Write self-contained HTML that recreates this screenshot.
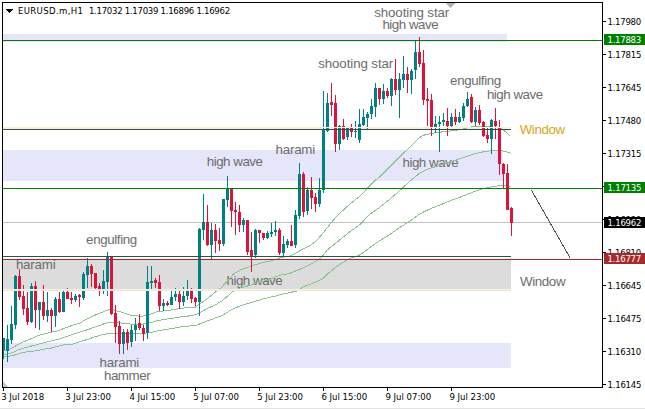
<!DOCTYPE html>
<html><head><meta charset="utf-8"><title>EURUSD.m,H1</title>
<style>
html,body{margin:0;padding:0;background:#fff;width:645px;height:409px;overflow:hidden}
svg{display:block}
.lb{font-family:"Liberation Sans",Arial,sans-serif;font-size:13.333px}
.ax{font-family:"DejaVu Sans Condensed","DejaVu Sans",sans-serif;font-stretch:condensed;font-size:9.5px}
.tt{font-family:"Liberation Sans",Arial,sans-serif;font-size:9.3px}
</style></head>
<body>
<svg width="645" height="409" viewBox="0 0 645 409">
<rect x="0" y="0" width="645" height="409" fill="#fff"/>
<g shape-rendering="crispEdges">
<rect x="3" y="34" width="504" height="8" fill="#e6e6fa"/>
<rect x="3" y="150" width="500" height="31" fill="#e6e6fa"/>
<rect x="3" y="343" width="508" height="25" fill="#e6e6fa"/>
<rect x="3" y="260" width="508" height="29" fill="#dcdcdc"/>
<rect x="3" y="222" width="599" height="1" fill="#c0c0c0"/>
<rect x="3" y="128" width="508" height="1" fill="#ffefd5"/>
</g>
<text x="374.19" y="17.30" textLength="75.06" lengthAdjust="spacing" fill="#6c6c6c" class="lb">shooting star</text>
<text x="382.41" y="28.80" textLength="56.18" lengthAdjust="spacing" fill="#6c6c6c" class="lb">high wave</text>
<text x="318.19" y="67.70" textLength="75.06" lengthAdjust="spacing" fill="#6c6c6c" class="lb">shooting star</text>
<text x="450.10" y="84.60" textLength="51.11" lengthAdjust="spacing" fill="#6c6c6c" class="lb">engulfing</text>
<text x="486.91" y="98.90" textLength="56.18" lengthAdjust="spacing" fill="#6c6c6c" class="lb">high wave</text>
<text x="275.51" y="153.60" textLength="39.7" lengthAdjust="spacing" fill="#6c6c6c" class="lb">harami</text>
<text x="206.76" y="165.65" textLength="56.18" lengthAdjust="spacing" fill="#6c6c6c" class="lb">high wave</text>
<text x="402.51" y="166.60" textLength="56.18" lengthAdjust="spacing" fill="#6c6c6c" class="lb">high wave</text>
<text x="86.10" y="243.50" textLength="51.11" lengthAdjust="spacing" fill="#6c6c6c" class="lb">engulfing</text>
<text x="15.91" y="268.60" textLength="39.7" lengthAdjust="spacing" fill="#6c6c6c" class="lb">harami</text>
<text x="226.51" y="284.60" textLength="56.18" lengthAdjust="spacing" fill="#6c6c6c" class="lb">high wave</text>
<text x="99.61" y="366.90" textLength="39.7" lengthAdjust="spacing" fill="#6c6c6c" class="lb">harami</text>
<text x="103.91" y="380.40" textLength="46.74" lengthAdjust="spacing" fill="#6c6c6c" class="lb">hammer</text>
<text x="519.65" y="133.90" textLength="45.61" lengthAdjust="spacing" fill="#daa520" class="lb">Window</text>
<text x="519.95" y="285.90" textLength="45.61" lengthAdjust="spacing" fill="#6c6c6c" class="lb">Window</text>
<g shape-rendering="crispEdges">
<polyline points="2.5,351.2 3.6,350.8 9.0,349.4 13.6,347.2 18.1,344.4 22.6,342.2 27.1,340.4 31.6,338.6 36.2,336.3 40.7,334.9 45.2,333.6 50.0,332.4 57.8,330.9 65.5,327.8 73.3,325.0 81.0,322.7 84.0,320.5 88.9,318.1 93.8,315.7 98.7,313.7 103.6,311.7 109.4,309.5 113.4,309.8 118.2,311.3 123.1,312.5 128.0,314.5 132.0,315.5 135.5,315.7 141.0,316.5 146.5,315.4 152.0,313.7 157.5,311.5 163.0,311.0 168.5,310.4 174.0,309.5 178.0,308.9 185.3,307.8 195.6,307.0 200.0,303.7 207.3,298.6 214.7,292.7 220.5,288.3 227.0,281.6 233.3,274.2 240.7,269.8 248.0,267.3 255.3,264.7 262.7,262.5 270.0,261.0 276.0,259.4 281.3,257.3 288.7,256.4 293.1,254.7 303.3,248.8 310.7,245.1 316.0,241.3 322.6,233.5 331.4,222.5 338.0,214.8 349.0,204.9 360.0,196.0 367.8,187.8 375.7,180.0 379.8,176.8 389.6,167.0 395.0,161.7 399.9,156.8 404.8,151.9 409.7,147.5 414.6,142.6 419.5,137.7 423.4,135.3 427.3,134.3 432.2,133.3 435.0,132.8 444.9,131.6 460.0,129.8 473.0,126.5 484.0,126.5 495.0,127.1 501.5,128.7 506.0,132.0 510.5,136.3" fill="none" stroke="#8cc28e" stroke-width="1"/>
<polyline points="2.5,355.0 3.6,354.8 9.0,353.9 13.6,352.1 18.1,349.9 22.6,348.3 27.1,347.2 31.6,346.0 36.2,344.9 40.7,343.5 45.2,342.6 50.0,341.3 57.8,339.4 65.5,336.7 73.3,334.3 81.0,331.6 84.0,330.8 88.9,329.2 93.8,327.4 98.7,325.9 103.6,324.0 109.4,322.5 113.4,322.5 118.2,322.7 123.1,323.3 128.0,323.7 132.0,324.2 135.5,324.5 141.0,324.5 146.5,323.4 152.0,322.3 157.5,320.5 163.0,319.8 168.5,318.7 174.0,318.1 178.0,317.2 185.3,316.6 195.6,314.7 200.0,312.5 207.3,308.4 214.7,305.2 222.0,300.8 227.0,296.7 233.3,291.1 240.7,287.8 248.0,285.9 255.3,283.4 262.7,281.5 270.0,279.3 275.0,276.9 281.3,274.9 288.7,273.7 296.0,270.8 303.3,267.9 310.7,264.2 318.0,259.8 321.0,258.0 327.0,250.1 338.0,241.3 349.0,232.4 360.0,224.5 369.8,214.2 379.6,207.4 389.4,199.5 399.2,191.0 409.1,181.9 419.5,173.3 428.6,168.8 437.9,166.0 447.0,162.5 454.7,160.6 462.0,157.9 469.4,155.4 476.7,153.2 484.0,151.7 491.4,150.6 498.7,150.3 506.1,151.5 511.0,153.5" fill="none" stroke="#8cc28e" stroke-width="1"/>
<polyline points="2.5,356.8 3.6,356.6 9.0,356.2 13.6,355.3 18.1,353.9 22.6,352.6 27.1,351.7 31.6,351.2 36.2,350.8 40.7,349.9 45.2,349.0 50.0,348.4 57.8,346.4 65.5,344.4 73.3,344.0 81.0,341.3 86.9,339.6 93.8,337.2 98.7,335.7 103.6,334.4 109.4,333.3 113.4,333.5 123.1,333.8 134.0,333.5 141.0,333.3 146.5,333.0 152.0,332.4 157.5,330.8 163.0,330.0 168.5,329.1 174.0,328.2 178.0,327.2 185.3,326.5 197.1,325.0 204.4,322.1 213.2,318.8 222.0,315.5 228.0,311.8 231.9,309.4 240.7,305.7 248.0,303.5 255.3,301.3 262.7,299.1 270.0,297.2 274.0,296.5 281.3,294.3 288.7,292.8 296.0,291.3 303.3,286.9 310.7,284.0 318.0,281.1 324.0,277.8 327.0,274.3 338.0,265.5 349.0,258.9 360.0,254.8 369.8,247.5 379.6,240.7 389.4,234.8 399.1,227.9 410.0,221.1 419.3,214.2 428.6,209.5 440.2,204.9 451.9,200.2 462.0,196.5 469.4,193.6 476.7,190.7 484.0,188.5 491.4,187.0 498.7,185.8 504.6,185.2 511.0,186.7" fill="none" stroke="#8cc28e" stroke-width="1"/>
</g>
<g shape-rendering="crispEdges">
<rect x="3" y="338" width="1" height="21" fill="#008080"/>
<rect x="2" y="338" width="3" height="12" fill="#008080"/>
<rect x="7" y="325" width="1" height="37" fill="#008080"/>
<rect x="6" y="339" width="3" height="12" fill="#008080"/>
<rect x="11" y="306" width="1" height="38" fill="#008080"/>
<rect x="10" y="324" width="3" height="16" fill="#008080"/>
<rect x="15" y="275" width="1" height="54" fill="#008080"/>
<rect x="14" y="276" width="3" height="49" fill="#008080"/>
<rect x="19" y="269" width="1" height="31" fill="#dc143c"/>
<rect x="18" y="276" width="3" height="21" fill="#dc143c"/>
<rect x="23" y="285" width="1" height="30" fill="#dc143c"/>
<rect x="22" y="296" width="3" height="13" fill="#dc143c"/>
<rect x="27" y="292" width="1" height="33" fill="#dc143c"/>
<rect x="26" y="308" width="3" height="14" fill="#dc143c"/>
<rect x="31" y="283" width="1" height="40" fill="#008080"/>
<rect x="30" y="286" width="3" height="36" fill="#008080"/>
<rect x="35" y="281" width="1" height="47" fill="#dc143c"/>
<rect x="34" y="286" width="3" height="24" fill="#dc143c"/>
<rect x="39" y="302" width="1" height="28" fill="#008080"/>
<rect x="38" y="302" width="3" height="8" fill="#008080"/>
<rect x="43" y="285" width="1" height="35" fill="#dc143c"/>
<rect x="42" y="302" width="3" height="14" fill="#dc143c"/>
<rect x="47" y="292" width="1" height="30" fill="#008080"/>
<rect x="46" y="310" width="3" height="6" fill="#008080"/>
<rect x="51" y="308" width="1" height="24" fill="#dc143c"/>
<rect x="50" y="310" width="3" height="6" fill="#dc143c"/>
<rect x="55" y="297" width="1" height="30" fill="#008080"/>
<rect x="54" y="299" width="3" height="17" fill="#008080"/>
<rect x="59" y="292" width="1" height="21" fill="#dc143c"/>
<rect x="58" y="299" width="3" height="13" fill="#dc143c"/>
<rect x="63" y="291" width="1" height="21" fill="#008080"/>
<rect x="62" y="292" width="3" height="20" fill="#008080"/>
<rect x="67" y="288" width="1" height="11" fill="#dc143c"/>
<rect x="66" y="292" width="3" height="7" fill="#dc143c"/>
<rect x="71" y="292" width="1" height="12" fill="#dc143c"/>
<rect x="70" y="298" width="3" height="2" fill="#dc143c"/>
<rect x="75" y="294" width="1" height="8" fill="#008080"/>
<rect x="74" y="296" width="3" height="4" fill="#008080"/>
<rect x="79" y="294" width="1" height="13" fill="#dc143c"/>
<rect x="78" y="295" width="3" height="2" fill="#dc143c"/>
<rect x="83" y="272" width="1" height="28" fill="#008080"/>
<rect x="82" y="274" width="3" height="24" fill="#008080"/>
<rect x="87" y="258" width="1" height="30" fill="#008080"/>
<rect x="86" y="266" width="3" height="9" fill="#008080"/>
<rect x="91" y="264" width="1" height="23" fill="#dc143c"/>
<rect x="90" y="266" width="3" height="8" fill="#dc143c"/>
<rect x="95" y="273" width="1" height="16" fill="#dc143c"/>
<rect x="94" y="273" width="3" height="15" fill="#dc143c"/>
<rect x="99" y="283" width="1" height="13" fill="#dc143c"/>
<rect x="98" y="286" width="3" height="3" fill="#dc143c"/>
<rect x="103" y="270" width="1" height="24" fill="#008080"/>
<rect x="102" y="281" width="3" height="8" fill="#008080"/>
<rect x="107" y="252" width="1" height="44" fill="#008080"/>
<rect x="106" y="256" width="3" height="26" fill="#008080"/>
<rect x="111" y="257" width="1" height="58" fill="#dc143c"/>
<rect x="110" y="257" width="3" height="57" fill="#dc143c"/>
<rect x="115" y="305" width="1" height="38" fill="#dc143c"/>
<rect x="114" y="313" width="3" height="14" fill="#dc143c"/>
<rect x="119" y="321" width="1" height="33" fill="#dc143c"/>
<rect x="118" y="326" width="3" height="18" fill="#dc143c"/>
<rect x="123" y="329" width="1" height="25" fill="#008080"/>
<rect x="122" y="332" width="3" height="12" fill="#008080"/>
<rect x="127" y="329" width="1" height="21" fill="#dc143c"/>
<rect x="126" y="332" width="3" height="11" fill="#dc143c"/>
<rect x="131" y="325" width="1" height="22" fill="#008080"/>
<rect x="130" y="330" width="3" height="12" fill="#008080"/>
<rect x="135" y="318" width="1" height="23" fill="#008080"/>
<rect x="134" y="325" width="3" height="5" fill="#008080"/>
<rect x="139" y="314" width="1" height="16" fill="#dc143c"/>
<rect x="138" y="323" width="3" height="5" fill="#dc143c"/>
<rect x="143" y="325" width="1" height="16" fill="#dc143c"/>
<rect x="142" y="328" width="3" height="6" fill="#dc143c"/>
<rect x="147" y="266" width="1" height="73" fill="#008080"/>
<rect x="146" y="282" width="3" height="51" fill="#008080"/>
<rect x="151" y="266" width="1" height="23" fill="#008080"/>
<rect x="150" y="281" width="3" height="2" fill="#008080"/>
<rect x="155" y="278" width="1" height="10" fill="#dc143c"/>
<rect x="154" y="280" width="3" height="3" fill="#dc143c"/>
<rect x="159" y="275" width="1" height="36" fill="#dc143c"/>
<rect x="158" y="282" width="3" height="24" fill="#dc143c"/>
<rect x="163" y="299" width="1" height="12" fill="#008080"/>
<rect x="162" y="303" width="3" height="3" fill="#008080"/>
<rect x="167" y="301" width="1" height="5" fill="#dc143c"/>
<rect x="166" y="303" width="3" height="2" fill="#dc143c"/>
<rect x="171" y="291" width="1" height="14" fill="#008080"/>
<rect x="170" y="297" width="3" height="8" fill="#008080"/>
<rect x="175" y="288" width="1" height="13" fill="#008080"/>
<rect x="174" y="294" width="3" height="3" fill="#008080"/>
<rect x="179" y="291" width="1" height="18" fill="#dc143c"/>
<rect x="178" y="294" width="3" height="8" fill="#dc143c"/>
<rect x="183" y="287" width="1" height="19" fill="#008080"/>
<rect x="182" y="296" width="3" height="6" fill="#008080"/>
<rect x="187" y="280" width="1" height="20" fill="#008080"/>
<rect x="186" y="291" width="3" height="5" fill="#008080"/>
<rect x="191" y="288" width="1" height="15" fill="#dc143c"/>
<rect x="190" y="291" width="3" height="8" fill="#dc143c"/>
<rect x="195" y="297" width="1" height="9" fill="#dc143c"/>
<rect x="194" y="298" width="3" height="4" fill="#dc143c"/>
<rect x="199" y="228" width="1" height="88" fill="#008080"/>
<rect x="198" y="229" width="3" height="73" fill="#008080"/>
<rect x="203" y="194" width="1" height="46" fill="#008080"/>
<rect x="202" y="222" width="3" height="8" fill="#008080"/>
<rect x="207" y="205" width="1" height="41" fill="#dc143c"/>
<rect x="206" y="222" width="3" height="23" fill="#dc143c"/>
<rect x="211" y="223" width="1" height="36" fill="#008080"/>
<rect x="210" y="230" width="3" height="15" fill="#008080"/>
<rect x="215" y="224" width="1" height="29" fill="#dc143c"/>
<rect x="214" y="230" width="3" height="11" fill="#dc143c"/>
<rect x="219" y="228" width="1" height="23" fill="#dc143c"/>
<rect x="218" y="240" width="3" height="4" fill="#dc143c"/>
<rect x="223" y="199" width="1" height="47" fill="#008080"/>
<rect x="222" y="199" width="3" height="45" fill="#008080"/>
<rect x="227" y="176" width="1" height="31" fill="#008080"/>
<rect x="226" y="189" width="3" height="11" fill="#008080"/>
<rect x="231" y="188" width="1" height="39" fill="#dc143c"/>
<rect x="230" y="189" width="3" height="22" fill="#dc143c"/>
<rect x="235" y="202" width="1" height="33" fill="#dc143c"/>
<rect x="234" y="210" width="3" height="2" fill="#dc143c"/>
<rect x="239" y="205" width="1" height="27" fill="#dc143c"/>
<rect x="238" y="212" width="3" height="13" fill="#dc143c"/>
<rect x="243" y="218" width="1" height="14" fill="#008080"/>
<rect x="242" y="220" width="3" height="5" fill="#008080"/>
<rect x="247" y="220" width="1" height="35" fill="#dc143c"/>
<rect x="246" y="220" width="3" height="32" fill="#dc143c"/>
<rect x="251" y="232" width="1" height="40" fill="#dc143c"/>
<rect x="250" y="250" width="3" height="6" fill="#dc143c"/>
<rect x="255" y="229" width="1" height="29" fill="#008080"/>
<rect x="254" y="230" width="3" height="25" fill="#008080"/>
<rect x="259" y="230" width="1" height="13" fill="#dc143c"/>
<rect x="258" y="230" width="3" height="3" fill="#dc143c"/>
<rect x="263" y="233" width="1" height="7" fill="#dc143c"/>
<rect x="262" y="233" width="3" height="5" fill="#dc143c"/>
<rect x="267" y="231" width="1" height="8" fill="#008080"/>
<rect x="266" y="233" width="3" height="5" fill="#008080"/>
<rect x="271" y="223" width="1" height="14" fill="#008080"/>
<rect x="270" y="232" width="3" height="2" fill="#008080"/>
<rect x="275" y="221" width="1" height="15" fill="#008080"/>
<rect x="274" y="230" width="3" height="2" fill="#008080"/>
<rect x="279" y="228" width="1" height="27" fill="#dc143c"/>
<rect x="278" y="230" width="3" height="23" fill="#dc143c"/>
<rect x="283" y="236" width="1" height="20" fill="#008080"/>
<rect x="282" y="244" width="3" height="9" fill="#008080"/>
<rect x="287" y="239" width="1" height="9" fill="#008080"/>
<rect x="286" y="241" width="3" height="4" fill="#008080"/>
<rect x="291" y="225" width="1" height="21" fill="#dc143c"/>
<rect x="290" y="241" width="3" height="5" fill="#dc143c"/>
<rect x="295" y="210" width="1" height="38" fill="#008080"/>
<rect x="294" y="215" width="3" height="30" fill="#008080"/>
<rect x="299" y="163" width="1" height="56" fill="#008080"/>
<rect x="298" y="174" width="3" height="42" fill="#008080"/>
<rect x="303" y="172" width="1" height="45" fill="#dc143c"/>
<rect x="302" y="174" width="3" height="38" fill="#dc143c"/>
<rect x="307" y="187" width="1" height="28" fill="#008080"/>
<rect x="306" y="190" width="3" height="21" fill="#008080"/>
<rect x="311" y="177" width="1" height="32" fill="#dc143c"/>
<rect x="310" y="190" width="3" height="8" fill="#dc143c"/>
<rect x="315" y="193" width="1" height="19" fill="#dc143c"/>
<rect x="314" y="197" width="3" height="7" fill="#dc143c"/>
<rect x="319" y="178" width="1" height="29" fill="#008080"/>
<rect x="318" y="190" width="3" height="14" fill="#008080"/>
<rect x="323" y="91" width="1" height="102" fill="#008080"/>
<rect x="322" y="129" width="3" height="61" fill="#008080"/>
<rect x="327" y="93" width="1" height="39" fill="#008080"/>
<rect x="326" y="103" width="3" height="28" fill="#008080"/>
<rect x="331" y="83" width="1" height="33" fill="#dc143c"/>
<rect x="330" y="102" width="3" height="3" fill="#dc143c"/>
<rect x="335" y="95" width="1" height="57" fill="#dc143c"/>
<rect x="334" y="103" width="3" height="41" fill="#dc143c"/>
<rect x="339" y="125" width="1" height="25" fill="#008080"/>
<rect x="338" y="126" width="3" height="18" fill="#008080"/>
<rect x="343" y="119" width="1" height="21" fill="#dc143c"/>
<rect x="342" y="126" width="3" height="13" fill="#dc143c"/>
<rect x="347" y="127" width="1" height="13" fill="#008080"/>
<rect x="346" y="128" width="3" height="9" fill="#008080"/>
<rect x="351" y="124" width="1" height="13" fill="#dc143c"/>
<rect x="350" y="128" width="3" height="4" fill="#dc143c"/>
<rect x="355" y="121" width="1" height="17" fill="#008080"/>
<rect x="354" y="131" width="3" height="1" fill="#008080"/>
<rect x="359" y="109" width="1" height="34" fill="#008080"/>
<rect x="358" y="124" width="3" height="16" fill="#008080"/>
<rect x="363" y="109" width="1" height="17" fill="#008080"/>
<rect x="362" y="117" width="3" height="8" fill="#008080"/>
<rect x="367" y="112" width="1" height="18" fill="#008080"/>
<rect x="366" y="114" width="3" height="4" fill="#008080"/>
<rect x="371" y="99" width="1" height="20" fill="#008080"/>
<rect x="370" y="106" width="3" height="8" fill="#008080"/>
<rect x="375" y="83" width="1" height="34" fill="#008080"/>
<rect x="374" y="88" width="3" height="19" fill="#008080"/>
<rect x="379" y="88" width="1" height="17" fill="#dc143c"/>
<rect x="378" y="88" width="3" height="11" fill="#dc143c"/>
<rect x="383" y="84" width="1" height="20" fill="#008080"/>
<rect x="382" y="91" width="3" height="8" fill="#008080"/>
<rect x="387" y="88" width="1" height="10" fill="#dc143c"/>
<rect x="386" y="91" width="3" height="5" fill="#dc143c"/>
<rect x="391" y="78" width="1" height="28" fill="#008080"/>
<rect x="390" y="79" width="3" height="17" fill="#008080"/>
<rect x="395" y="59" width="1" height="36" fill="#dc143c"/>
<rect x="394" y="79" width="3" height="11" fill="#dc143c"/>
<rect x="399" y="73" width="1" height="45" fill="#008080"/>
<rect x="398" y="79" width="3" height="11" fill="#008080"/>
<rect x="403" y="56" width="1" height="32" fill="#008080"/>
<rect x="402" y="74" width="3" height="6" fill="#008080"/>
<rect x="407" y="67" width="1" height="26" fill="#dc143c"/>
<rect x="406" y="74" width="3" height="6" fill="#dc143c"/>
<rect x="411" y="69" width="1" height="25" fill="#008080"/>
<rect x="410" y="71" width="3" height="9" fill="#008080"/>
<rect x="415" y="41" width="1" height="38" fill="#008080"/>
<rect x="414" y="52" width="3" height="18" fill="#008080"/>
<rect x="419" y="37" width="1" height="30" fill="#dc143c"/>
<rect x="418" y="52" width="3" height="12" fill="#dc143c"/>
<rect x="423" y="50" width="1" height="55" fill="#dc143c"/>
<rect x="422" y="63" width="3" height="37" fill="#dc143c"/>
<rect x="427" y="88" width="1" height="38" fill="#dc143c"/>
<rect x="426" y="99" width="3" height="2" fill="#dc143c"/>
<rect x="431" y="94" width="1" height="42" fill="#dc143c"/>
<rect x="430" y="100" width="3" height="27" fill="#dc143c"/>
<rect x="435" y="116" width="1" height="17" fill="#008080"/>
<rect x="434" y="124" width="3" height="3" fill="#008080"/>
<rect x="439" y="116" width="1" height="36" fill="#008080"/>
<rect x="438" y="122" width="3" height="2" fill="#008080"/>
<rect x="443" y="113" width="1" height="13" fill="#008080"/>
<rect x="442" y="120" width="3" height="2" fill="#008080"/>
<rect x="447" y="108" width="1" height="28" fill="#dc143c"/>
<rect x="446" y="121" width="3" height="5" fill="#dc143c"/>
<rect x="451" y="113" width="1" height="14" fill="#008080"/>
<rect x="450" y="117" width="3" height="9" fill="#008080"/>
<rect x="455" y="109" width="1" height="16" fill="#dc143c"/>
<rect x="454" y="117" width="3" height="5" fill="#dc143c"/>
<rect x="459" y="112" width="1" height="11" fill="#008080"/>
<rect x="458" y="117" width="3" height="5" fill="#008080"/>
<rect x="463" y="103" width="1" height="18" fill="#008080"/>
<rect x="462" y="106" width="3" height="12" fill="#008080"/>
<rect x="467" y="92" width="1" height="15" fill="#008080"/>
<rect x="466" y="99" width="3" height="7" fill="#008080"/>
<rect x="471" y="94" width="1" height="29" fill="#dc143c"/>
<rect x="470" y="97" width="3" height="25" fill="#dc143c"/>
<rect x="475" y="107" width="1" height="19" fill="#008080"/>
<rect x="474" y="110" width="3" height="12" fill="#008080"/>
<rect x="479" y="105" width="1" height="20" fill="#dc143c"/>
<rect x="478" y="110" width="3" height="13" fill="#dc143c"/>
<rect x="483" y="121" width="1" height="16" fill="#dc143c"/>
<rect x="482" y="122" width="3" height="14" fill="#dc143c"/>
<rect x="487" y="128" width="1" height="15" fill="#dc143c"/>
<rect x="486" y="135" width="3" height="4" fill="#dc143c"/>
<rect x="491" y="119" width="1" height="35" fill="#008080"/>
<rect x="490" y="120" width="3" height="19" fill="#008080"/>
<rect x="495" y="108" width="1" height="31" fill="#dc143c"/>
<rect x="494" y="121" width="3" height="5" fill="#dc143c"/>
<rect x="499" y="120" width="1" height="55" fill="#dc143c"/>
<rect x="498" y="128" width="3" height="36" fill="#dc143c"/>
<rect x="503" y="163" width="1" height="25" fill="#dc143c"/>
<rect x="502" y="164" width="3" height="10" fill="#dc143c"/>
<rect x="507" y="164" width="1" height="46" fill="#dc143c"/>
<rect x="506" y="173" width="3" height="37" fill="#dc143c"/>
<rect x="511" y="207" width="1" height="29" fill="#dc143c"/>
<rect x="510" y="208" width="3" height="15" fill="#dc143c"/>
</g>
<g shape-rendering="crispEdges">
<rect x="3" y="40" width="599" height="1" fill="#008000"/>
<rect x="3" y="127" width="508" height="1" fill="#ffefd5"/>
<rect x="3" y="129" width="508" height="1" fill="#2f4f4f"/>
<rect x="3" y="188" width="599" height="1" fill="#008000"/>
<rect x="3" y="256" width="508" height="1" fill="#2f4f4f"/>
<rect x="3" y="259" width="599" height="1" fill="#a52a2a"/>
<rect x="3" y="289" width="508" height="1" fill="#ffefd5"/>
<rect x="3" y="290" width="508" height="1" fill="#e6e6ea"/>
<line x1="531.5" y1="190.5" x2="570.5" y2="258.5" stroke="#505050" stroke-width="1"/>
</g>
<g shape-rendering="crispEdges">
<rect x="2" y="2" width="601" height="1" fill="#000"/>
<rect x="2" y="2" width="1" height="386" fill="#000"/>
<rect x="602" y="2" width="1" height="386" fill="#000"/>
<rect x="2" y="387" width="601" height="1" fill="#000"/>
<rect x="603" y="21" width="3" height="1" fill="#000"/>
<text x="607.50" y="25" textLength="33.69" lengthAdjust="spacing" class="ax">1.17980</text>
<rect x="603" y="54" width="3" height="1" fill="#000"/>
<text x="607.50" y="58" textLength="33.94" lengthAdjust="spacing" class="ax">1.17815</text>
<rect x="603" y="87" width="3" height="1" fill="#000"/>
<text x="607.50" y="91" textLength="33.94" lengthAdjust="spacing" class="ax">1.17645</text>
<rect x="603" y="120" width="3" height="1" fill="#000"/>
<text x="607.50" y="124" textLength="33.69" lengthAdjust="spacing" class="ax">1.17480</text>
<rect x="603" y="153" width="3" height="1" fill="#000"/>
<text x="607.50" y="157" textLength="33.94" lengthAdjust="spacing" class="ax">1.17315</text>
<rect x="603" y="186" width="3" height="1" fill="#000"/>
<text x="607.50" y="190" textLength="33.69" lengthAdjust="spacing" class="ax">1.17150</text>
<rect x="603" y="219" width="3" height="1" fill="#000"/>
<text x="607.50" y="223" textLength="33.69" lengthAdjust="spacing" class="ax">1.16980</text>
<rect x="603" y="252" width="3" height="1" fill="#000"/>
<text x="607.50" y="256" textLength="33.69" lengthAdjust="spacing" class="ax">1.16810</text>
<rect x="603" y="285" width="3" height="1" fill="#000"/>
<text x="607.50" y="289" textLength="33.94" lengthAdjust="spacing" class="ax">1.16645</text>
<rect x="603" y="318" width="3" height="1" fill="#000"/>
<text x="607.50" y="322" textLength="33.94" lengthAdjust="spacing" class="ax">1.16475</text>
<rect x="603" y="351" width="3" height="1" fill="#000"/>
<text x="607.50" y="355" textLength="33.69" lengthAdjust="spacing" class="ax">1.16310</text>
<rect x="603" y="384" width="3" height="1" fill="#000"/>
<text x="607.50" y="388" textLength="33.94" lengthAdjust="spacing" class="ax">1.16145</text>
<rect x="604" y="34" width="41" height="11" fill="#008000"/>
<text x="607.50" y="43" textLength="33.69" lengthAdjust="spacing" class="ax" fill="#fff">1.17883</text>
<rect x="604" y="182" width="41" height="11" fill="#008000"/>
<text x="607.50" y="191" textLength="33.94" lengthAdjust="spacing" class="ax" fill="#fff">1.17135</text>
<rect x="604" y="217" width="41" height="11" fill="#000000"/>
<text x="607.50" y="226" textLength="33.94" lengthAdjust="spacing" class="ax" fill="#fff">1.16962</text>
<rect x="604" y="253" width="41" height="11" fill="#a52a2a"/>
<text x="607.50" y="262" textLength="33.69" lengthAdjust="spacing" class="ax" fill="#fff">1.16777</text>
<rect x="3" y="388" width="1" height="3" fill="#000"/>
<text x="1.15" y="400" textLength="42.92" lengthAdjust="spacing" class="ax">3 Jul 2018</text>
<rect x="67" y="388" width="1" height="3" fill="#000"/>
<text x="65.15" y="400" textLength="45.81" lengthAdjust="spacing" class="ax">3 Jul 23:00</text>
<rect x="131" y="388" width="1" height="3" fill="#000"/>
<text x="129.40" y="400" textLength="45.81" lengthAdjust="spacing" class="ax">4 Jul 15:00</text>
<rect x="195" y="388" width="1" height="3" fill="#000"/>
<text x="193.15" y="400" textLength="45.81" lengthAdjust="spacing" class="ax">5 Jul 07:00</text>
<rect x="259" y="388" width="1" height="3" fill="#000"/>
<text x="257.15" y="400" textLength="45.81" lengthAdjust="spacing" class="ax">5 Jul 23:00</text>
<rect x="323" y="388" width="1" height="3" fill="#000"/>
<text x="321.40" y="400" textLength="45.81" lengthAdjust="spacing" class="ax">6 Jul 15:00</text>
<rect x="387" y="388" width="1" height="3" fill="#000"/>
<text x="385.40" y="400" textLength="45.81" lengthAdjust="spacing" class="ax">9 Jul 07:00</text>
<rect x="451" y="388" width="1" height="3" fill="#000"/>
<text x="449.40" y="400" textLength="45.81" lengthAdjust="spacing" class="ax">9 Jul 23:00</text>
<polygon points="446,3 455,3 450.5,8" fill="#b4b4b4"/>
<polygon points="3,381.5 3,387 8.5,387" fill="#c8c8c8"/>
<polygon points="6,9 13,9 9.5,12.8" fill="#000"/>
<text x="17.95" y="14" textLength="65.08" lengthAdjust="spacing" class="ax">EURUSD.m,H1</text>
<text x="88.90" y="14" textLength="141.23" lengthAdjust="spacing" class="ax">1.17032 1.17039 1.16896 1.16962</text>
<rect x="0" y="407.5" width="645" height="2" fill="#e3e3e3"/>
</g>
</svg>
</body></html>
